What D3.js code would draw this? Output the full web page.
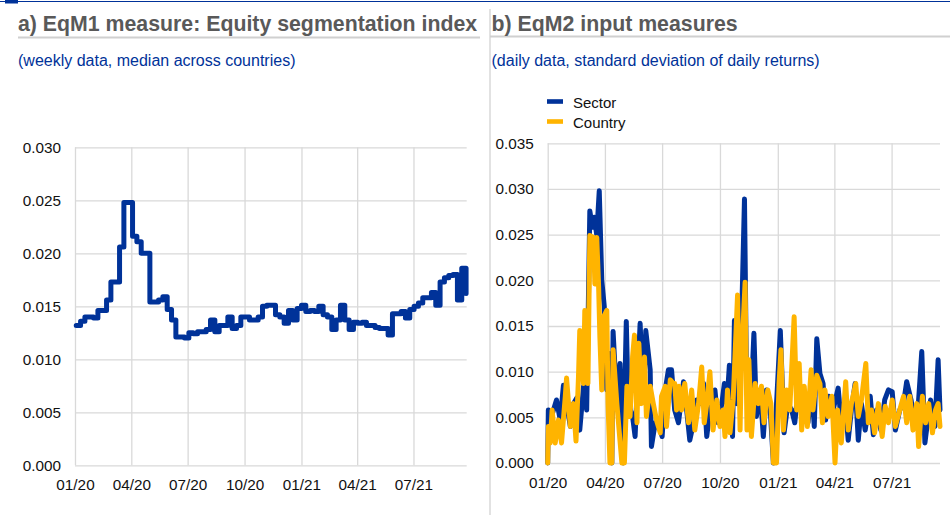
<!DOCTYPE html>
<html>
<head>
<meta charset="utf-8">
<script src="https://cdn.jsdelivr.net/npm/d3@7"></script>
<style>
  body { margin: 0; background: #fff; }
  svg { display: block; font-family: "Liberation Sans", Arial, sans-serif; }
</style>
</head>
<body>
<svg id="chart" width="950" height="521"></svg>
<script>
// ---- data ----
// panel a: weekly EqM1 index (median across countries), first week ending 3 Jan 2020
const eqm1Start = '2020-01-03'
const eqm1Values = [
  0.0132, 0.0136, 0.0140, 0.0140, 0.0139, 0.0146, 0.0146, 0.0156, 0.0173, 0.0173,
  0.0206, 0.0248, 0.0248, 0.0216, 0.0211, 0.0200, 0.0200, 0.0154, 0.0154, 0.0156,
  0.0159, 0.0147, 0.0137, 0.0121, 0.0121, 0.0120, 0.0125, 0.0124, 0.0126, 0.0126,
  0.0128, 0.0137, 0.0126, 0.0132, 0.0132, 0.0140, 0.0129, 0.0132, 0.0140, 0.0140,
  0.0137, 0.0137, 0.0140, 0.0150, 0.0151, 0.0151, 0.0142, 0.0140, 0.0134, 0.0146,
  0.0137, 0.0148, 0.0151, 0.0145, 0.0146, 0.0145, 0.0150, 0.0142, 0.0140, 0.0128,
  0.0137, 0.0151, 0.0137, 0.0128, 0.0135, 0.0134, 0.0135, 0.0132, 0.0132, 0.0130,
  0.0129, 0.0129, 0.0123, 0.0143, 0.0143, 0.0145, 0.0139, 0.0147, 0.0150, 0.0153,
  0.0158, 0.0158, 0.0163, 0.0151, 0.0173, 0.0177, 0.0179, 0.0180, 0.0156, 0.0186,
  0.0162
]

// panel b: days since 1 Jan 2020, values in thousandths
const sectorDays = [
  0, 1, 6, 14, 20, 25, 30, 36, 41, 46, 51, 57, 62, 67, 71, 74, 78, 82, 86, 90,
  94, 98, 102, 104, 110, 115, 120, 125, 128, 135, 139, 147, 152, 156, 163, 165, 171, 179, 182, 187,
  192, 197, 202, 208, 216, 221, 226, 232, 237, 242, 248, 253, 258, 266, 271, 277, 281, 285, 289, 294,
  297, 301, 306, 313, 316, 322, 328, 332, 338, 343, 348, 354, 359, 364, 370, 376, 382, 388, 393, 399,
  407, 414, 420, 424, 428, 433, 438, 442, 447, 454, 462, 467, 473, 478, 483, 489, 494, 499, 505, 513,
  518, 523, 530, 536, 542, 548, 553, 560, 566, 571, 578, 584, 589, 595, 600, 604, 609, 616, 621, 624
]
const sectorValues = [
  0, 5.8, 5.1, 6.9, 4.7, 8.5, 6.5, 4.0, 6.5, 7.1, 3.6, 8.4, 5.8, 27.6, 25.8, 26.9, 25.0, 29.8, 20.0, 17.1,
  8.0, 12.0, 0, 14.4, 6.5, 10.9, 0, 15.5, 6.5, 5.1, 2.9, 15.3, 6.9, 14.5, 10.2, 1.8, 4.4, 3.6, 2.9, 8.0,
  10.2, 10.2, 5.8, 4.4, 8.9, 5.8, 2.5, 4.4, 6.9, 6.5, 8.7, 2.9, 5.8, 8.0, 4.4, 6.5, 8.7, 6.5, 10.7, 2.9,
  15.6, 6.5, 8.7, 28.9, 10.2, 4.4, 14.2, 5.1, 8.0, 2.9, 8.0, 5.8, 0, 6.5, 14.5, 3.3, 6.5, 5.8, 4.4, 8.4,
  8.0, 4.4, 8.4, 4.0, 13.6, 9.8, 8.7, 4.7, 7.3, 5.8, 8.2, 4.4, 6.5, 2.5, 5.8, 8.7, 2.5, 6.5, 3.6, 7.3,
  3.1, 5.8, 3.6, 6.9, 8.0, 7.8, 3.6, 5.8, 6.5, 8.9, 6.9, 4.0, 5.8, 12.2, 2.2, 4.4, 6.9, 4.0, 11.3, 5.8
]
const countryDays = [
  0, 1, 4, 7, 12, 17, 22, 28, 30, 36, 41, 45, 49, 51, 57, 59, 64, 67, 73, 75,
  78, 81, 83, 86, 89, 94, 96, 99, 102, 104, 110, 118, 122, 126, 131, 135, 138, 142, 145, 149,
  154, 157, 163, 168, 173, 179, 181, 187, 189, 195, 200, 202, 205, 209, 213, 218, 224, 229, 234, 240,
  245, 249, 253, 258, 263, 269, 274, 279, 282, 286, 290, 295, 302, 306, 308, 314, 317, 320, 324, 330,
  335, 340, 344, 350, 355, 359, 364, 368, 371, 375, 380, 385, 392, 396, 400, 404, 408, 413, 419, 422,
  428, 433, 437, 441, 446, 452, 457, 461, 467, 474, 478, 483, 490, 494, 499, 506, 510, 515, 520, 526,
  532, 537, 542, 548, 553, 560, 566, 571, 576, 581, 587, 590, 596, 601, 606, 612, 617, 621, 624
]
const countryValues = [
  0, 4.0, 2.2, 5.8, 2.2, 4.7, 2.2, 7.3, 9.3, 4.0, 6.5, 2.4, 9.5, 14.5, 8.7, 16.7, 8.7, 24.9, 24.7, 19.6,
  24.7, 19.3, 13.8, 8.0, 16.0, 16.7, 6.5, 0, 0, 12.4, 6.5, 0, 0, 8.4, 5.1, 11.6, 14.0, 4.4, 13.1, 6.5,
  11.6, 5.1, 8.4, 6.5, 4.7, 3.3, 7.3, 8.4, 4.0, 9.1, 8.7, 8.7, 5.8, 8.4, 5.8, 8.7, 4.4, 8.0, 3.6, 6.5,
  10.5, 4.4, 6.5, 10.0, 3.6, 6.9, 4.0, 5.8, 2.9, 8.0, 3.3, 6.9, 18.4, 3.6, 10.9, 19.8, 3.6, 11.3, 2.9, 8.7,
  6.5, 8.4, 4.4, 8.0, 6.5, 0, 0, 8.7, 12.4, 3.6, 8.0, 5.8, 16.0, 5.8, 10.9, 3.6, 8.4, 4.0, 10.2, 5.8,
  9.6, 8.7, 4.4, 8.0, 5.1, 7.3, 0, 5.8, 2.2, 8.9, 3.6, 6.5, 8.7, 5.1, 6.9, 10.9, 4.4, 5.8, 3.3, 6.5,
  2.9, 6.2, 4.4, 6.9, 4.0, 5.8, 7.3, 4.4, 7.3, 3.6, 6.5, 1.8, 7.3, 4.4, 6.5, 3.3, 5.8, 6.5, 4.0
]

const seriesNames = ['Sector', 'Country']
const yTicksA = [0, 0.005, 0.010, 0.015, 0.020, 0.025, 0.030]
const yTicksB = [0, 0.005, 0.010, 0.015, 0.020, 0.025, 0.030, 0.035]

// ---- styles ----
const blue = '#003299'
const yellow = '#ffb400'
const gridColor = '#d9d9d9'
const titleColor = '#595959'

const parse = d3.timeParse('%Y-%m-%d')
const origin = parse('2020-01-01')

const svg = d3.select('#chart')

// header decoration
svg.append('line').attr('x1', 0).attr('x2', 950).attr('y1', 1.5).attr('y2', 1.5)
  .attr('stroke', blue).attr('stroke-width', 1.2)
svg.append('rect').attr('x', 5).attr('y', 0).attr('width', 13).attr('height', 3.5).attr('fill', blue)
svg.append('line').attr('x1', 490).attr('x2', 490).attr('y1', 9).attr('y2', 515)
  .attr('stroke', gridColor).attr('stroke-width', 1.5)
svg.append('line').attr('x1', 18).attr('x2', 480).attr('y1', 37.5).attr('y2', 37.5)
  .attr('stroke', '#d0d0d0').attr('stroke-width', 2)
svg.append('line').attr('x1', 490).attr('x2', 950).attr('y1', 36.5).attr('y2', 36.5)
  .attr('stroke', '#d0d0d0').attr('stroke-width', 2)

const titles = [
  {x: 18, text: 'a) EqM1 measure: Equity segmentation index', sub: '(weekly data, median across countries)'},
  {x: 491.5, text: 'b) EqM2 input measures', sub: '(daily data, standard deviation of daily returns)'}
]
svg.selectAll('.title').data(titles).join('text')
  .attr('class', 'title')
  .attr('x', d => d.x).attr('y', 30.5)
  .attr('font-size', 21.3).attr('font-weight', 'bold').attr('fill', titleColor)
  .text(d => d.text)
svg.selectAll('.sub').data(titles).join('text')
  .attr('class', 'sub')
  .attr('x', d => d.x).attr('y', 66)
  .attr('font-size', 16).attr('fill', blue)
  .text(d => d.sub)

// builds the scales, grid and axes of one panel
function panel(left, right, top, bottom, endDay, yMax, yTicks) {
  const x = d3.scaleTime()
    .domain([origin, d3.timeDay.offset(origin, endDay)])
    .range([left, right])
  const y = d3.scaleLinear().domain([0, yMax]).range([bottom, top])

  const yAxis = svg.append('g')
    .attr('transform', `translate(${left},0)`)
    .call(d3.axisLeft(y).tickValues(yTicks).tickFormat(d3.format('.3f'))
      .tickSize(-(right - left)).tickPadding(14))
  const xAxis = svg.append('g')
    .attr('transform', `translate(0,${bottom})`)
    .call(d3.axisBottom(x).ticks(d3.timeMonth.every(3)).tickFormat(d3.timeFormat('%m/%y'))
      .tickSize(-(bottom - top)).tickPadding(14))

  for (const ax of [yAxis, xAxis]) {
    ax.select('.domain').remove()
    ax.selectAll('line').attr('stroke', gridColor).attr('stroke-width', 1.3)
    ax.selectAll('text').attr('font-size', 15.3).attr('fill', '#111')
      .attr('font-family', '"Liberation Sans", Arial, sans-serif')
  }
  return {x, y}
}

// panel a
const pa = panel(75, 466.7, 147.3, 465.3, 633.3, 0.030, yTicksA)
const weekData = eqm1Values.map((v, i) => ({date: d3.timeDay.offset(parse(eqm1Start), 7 * i), value: v}))
svg.append('path')
  .datum(weekData)
  .attr('fill', 'none')
  .attr('stroke', blue)
  .attr('stroke-width', 5)
  .attr('stroke-linejoin', 'round')
  .attr('stroke-linecap', 'round')
  .attr('d', d3.line().curve(d3.curveStepAfter)
    .x(d => pa.x(d.date)).y(d => pa.y(d.value)))

// panel b
const pb = panel(547.7, 940, 143.3, 463, 624, 0.035, yTicksB)
const seriesB = [
  {name: seriesNames[0], color: blue, points: sectorDays.map((d, i) => ({date: d3.timeDay.offset(origin, d), value: sectorValues[i] / 1000}))},
  {name: seriesNames[1], color: yellow, points: countryDays.map((d, i) => ({date: d3.timeDay.offset(origin, d), value: countryValues[i] / 1000}))}
]
const lineB = d3.line().x(d => pb.x(d.date)).y(d => pb.y(d.value))
svg.selectAll('.seriesB').data(seriesB).join('path')
  .attr('class', 'seriesB')
  .attr('fill', 'none')
  .attr('stroke', d => d.color)
  .attr('stroke-width', 5)
  .attr('stroke-linejoin', 'round')
  .attr('stroke-linecap', 'round')
  .attr('d', d => lineB(d.points))

// legend
const legend = svg.selectAll('.legend').data(seriesB).join('g')
  .attr('class', 'legend')
  .attr('transform', (d, i) => `translate(547,${101.5 + i * 20})`)
legend.append('rect').attr('x', 0).attr('y', -2.3).attr('width', 16).attr('height', 4.6)
  .attr('fill', d => d.color)
legend.append('text').attr('x', 26).attr('y', 6.5).attr('font-size', 15).attr('fill', '#111')
  .text(d => d.name)
</script>
</body>
</html>
